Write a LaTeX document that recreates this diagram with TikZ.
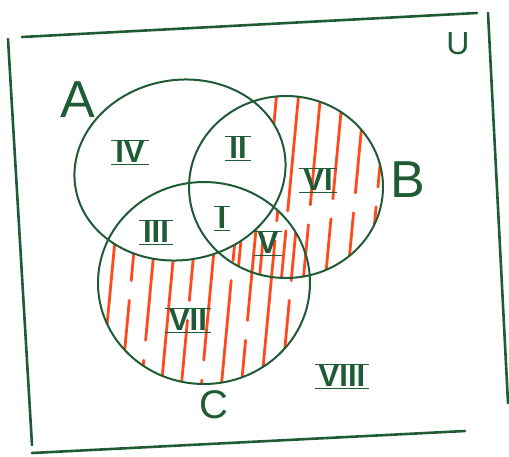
\documentclass[tikz,border=0pt]{standalone}
\usepackage{fontspec}
\setmainfont{Liberation Sans}
\definecolor{pen}{HTML}{1F5C35}
\definecolor{marker}{HTML}{FF4A1C}
\newcommand{\barred}[1]{$\overline{\underline{\mbox{\kern4pt#1\kern4pt}}}$}
\tikzset{
  setline/.style={draw=pen, line width=2},
  frameline/.style={draw=pen, line width=2.6, line cap=round},
  hatchline/.style={draw=marker, line width=2.8, line cap=round},
  setname/.style={text=pen, font=\fontsize{52}{52}\selectfont},
  region/.style={text=pen, font=\bfseries\fontsize{31}{31}\selectfont}
}
\begin{document}
\begin{tikzpicture}[x=1pt,y=-1pt]
	\useasboundingbox (0,0) rectangle (509,456);
	% universe
	\coordinate (tl) at (22,37);
	\coordinate (tr) at (477,13);
	\coordinate (lt) at (8,39);
	\coordinate (lb) at (32,445);
	\coordinate (bl) at (32,453);
	\coordinate (br) at (465,431);
	\coordinate (rt) at (488,13);
	\coordinate (rb) at (508,403);
	\draw[frameline] (tl) -- (tr);
	\draw[frameline] (lt) -- (lb);
	\draw[frameline] (bl) -- (br);
	\draw[frameline] (rt) -- (rb);
	% hatching of (B u C) \ A
	\begin{scope}
		\clip (286,187) ellipse [x radius=97, y radius=91];
		\foreach \x in {226,248,...,380}
			{\pgfmathsetmacro\ph{mod(\x*7,160)}
			\draw[hatchline, dash pattern=on 140pt off 20pt, dash phase=\ph pt] (\x,400) -- ++(30,-320);}
	\end{scope}
	\begin{scope}
		\clip (204,283) ellipse [x radius=106, y radius=101];
		\foreach \x in {80,100,...,300}
			{\pgfmathsetmacro\ph{mod(\x*11,160)}
			\draw[hatchline, dash pattern=on 140pt off 20pt, dash phase=\ph pt] (\x,400) -- ++(30,-320);}
	\end{scope}
	\fill[white] (180,170) ellipse [x radius=106, y radius=90, rotate=10];
	% sets
	\draw[setline] (180,170) ellipse [x radius=106, y radius=90, rotate=10];
	\draw[setline] (286,187) ellipse [x radius=97, y radius=91];
	\draw[setline] (204,283) ellipse [x radius=106, y radius=101];
	% names
	\node[setname] (nameA) at (78,100) {A};
	\node[setname] (nameB) at (408,180) {B};
	\node[setname, font=\fontsize{40}{40}\selectfont] (nameC) at (214,405) {C};
	\node[setname, font=\fontsize{32}{32}\selectfont] (nameU) at (458,44) {U};
	% regions
	\node[region] (r1) at (222,218) {\barred{I}};
	\node[region] (r2) at (238,148) {\barred{II}};
	\node[region] (r3) at (156,232) {\barred{III}};
	\node[region] (r4) at (130,152) {\barred{IV}};
	\node[region] (r5) at (268,243) {\barred{V}};
	\node[region] (r6) at (318,180) {\barred{VI}};
	\node[region] (r7) at (188,320) {\barred{VII}};
	\node[region] (r8) at (342,376) {\barred{VIII}};
\end{tikzpicture}
\end{document}
